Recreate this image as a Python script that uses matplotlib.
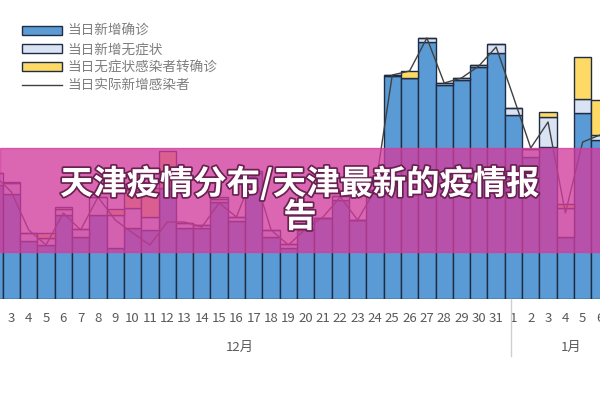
import numpy as np
import matplotlib
matplotlib.use("Agg")
from matplotlib import pyplot as plt
from matplotlib.patches import Patch
from matplotlib.lines import Line2D
import matplotlib.patheffects as pe

plt.rcParams['font.family'] = ['Noto Sans CJK SC', 'DejaVu Sans']

# days: Dec 2 .. Dec 31, Jan 1 .. Jan 6
day_labels = [str(d) for d in range(2, 32)] + [str(d) for d in range(1, 7)]

# values (arbitrary units)
confirmed = [114, 105, 58, 54, 84, 62, 84, 51, 71, 69, 111, 71, 71, 97, 78,
             126, 62, 51, 69, 81, 99, 79, 109, 223, 221, 257, 214, 219, 232,
             246, 184, 142, 152, 62, 186, 159]
asymptom = [12, 11, 8, 7, 6, 8, 18, 33, 20, 13, 0, 5, 3, 3, 4,
            2, 7, 4, 1, 0, 4, 0, 0, 1, 0, 4, 2, 2, 2,
            9, 7, 8, 30, 29, 14, 5]
converted = [0, 1, 0, 5, 2, 0, 0, 6, 18, 29, 37, 0, 0, 2, 0,
             0, 0, 0, 0, 0, 0, 0, 0, 0, 7, 0, 0, 0, 0,
             0, 0, 0, 5, 4, 42, 35]
actual = [124, 107, 69, 54, 86, 69, 102, 79, 66, 54, 77, 77, 72, 96, 82,
          126, 69, 54, 70, 82, 102, 79, 109, 224, 228, 261, 216, 221, 233,
          252, 202, 151, 177, 86, 157, 164]

x = np.arange(len(day_labels))
c_blue, c_light, c_yellow = '#5b9bd5', '#dae3f3', '#ffd966'
edge = '#1f2d44'

fig = plt.figure(figsize=(6, 4), dpi=100)
ax = fig.add_axes([0, 101 / 400, 1, 299 / 400])
conf = np.array(confirmed)
asym = np.array(asymptom)
conv = np.array(converted)
ax.bar(x, conf, width=1.0, color=c_blue, edgecolor=edge, linewidth=1)
ax.bar(x, asym, width=1.0, bottom=conf, color=c_light, edgecolor=edge, linewidth=1)
ax.bar(x, conv, width=1.0, bottom=conf + asym, color=c_yellow, edgecolor=edge, linewidth=1)
ax.plot(x, actual, color='#404040', linewidth=1)

ax.set_xlim(0.341, 34.72)
ax.set_ylim(0, 299)
ax.set_yticks([])
ax.set_xticks(x[1:])
ax.set_xticklabels(day_labels[1:], fontsize=9.5, color='#595959')
ax.tick_params(axis='x', length=0, pad=9)
for s in ax.spines.values():
    s.set_visible(False)

# month labels and separator
fig.add_artist(Line2D([511 / 600, 511 / 600], [(400 - 299) / 400, (400 - 356) / 400],
                      color='#d0d0d0', linewidth=1))
fig.text(240 / 600, 1 - 347 / 400, '12月', fontsize=9.5, color='#595959', ha='center', va='center')
fig.text(571 / 600, 1 - 347 / 400, '1月', fontsize=9.5, color='#595959', ha='center', va='center')

handles = [Patch(facecolor=c_blue, edgecolor=edge), Patch(facecolor=c_light, edgecolor=edge),
           Patch(facecolor=c_yellow, edgecolor=edge), Line2D([], [], color='#404040', linewidth=1)]
labels = ['当日新增确诊', '当日新增无症状', '当日无症状感染者转确诊', '当日实际新增感染者']
fig.legend(handles, labels, loc='upper left', bbox_to_anchor=(0.037, 0.94), frameon=False,
           fontsize=9.8, labelcolor='#7f7f7f', handlelength=2.9, handleheight=0.6,
           labelspacing=0.3, handletextpad=0.4, borderpad=0, borderaxespad=0)

# pink banner with title
fig.add_artist(plt.Rectangle((0, 1 - 252 / 400), 1, 104 / 400, transform=fig.transFigure,
                             color='#d23c9e', alpha=0.78))
fig.text(0.5, 1 - 200 / 400, '天津疫情分布/天津最新的疫情报\n告', fontsize=24, fontweight='bold',
         color='white', ha='center', va='center', linespacing=1.0,
         path_effects=[pe.withStroke(linewidth=2.5, foreground='#6a2050')])

fig.savefig('out.png', dpi=100)
